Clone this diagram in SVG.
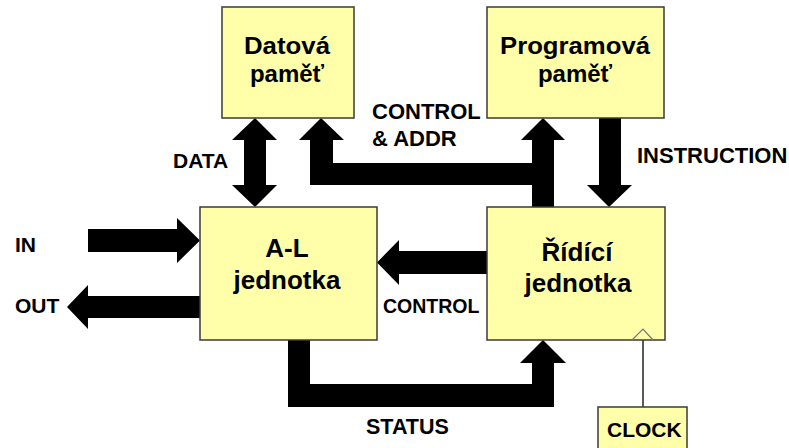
<svg xmlns="http://www.w3.org/2000/svg" width="789" height="448" viewBox="0 0 789 448">
<style>
.box{fill:#FFFFAA;stroke:#3a3a3a;stroke-width:1.5}
.bt{font-family:"Liberation Sans",Arial,sans-serif;font-weight:bold;font-size:26px;fill:#000;text-anchor:middle}
.bs{font-size:24px}
.lb{font-family:"Liberation Sans",Arial,sans-serif;font-weight:bold;font-size:21px;fill:#000}
.ar{fill:#000;stroke:none}
</style>
<rect width="789" height="448" fill="#fff"/>
<g id="connectors">
<polygon class="ar" points="255,118 277,140 266,140 266,185 277,185 255,207 232,185 244,185 244,140 232,140"/>
<polygon class="ar" points="321,118 344,140 333,140 333,163 532,163 532,140 521,140 543,118 565,140 554,140 554,207 532,207 532,185 310,185 310,140 299,140"/>
<polygon class="ar" points="599,118 621,118 621,185 632,185 609,207 587,185 599,185"/>
<polygon class="ar" points="88,229 177,229 177,218 200,240.5 177,263 177,252 88,252"/>
<polygon class="ar" points="200,296 88,296 88,285 67,307 88,329 88,318 200,318"/>
<polygon class="ar" points="487,251 399,251 399,240 377,262.5 399,285 399,274 487,274"/>
<polygon class="ar" points="288,340 310,340 310,384 532,384 532,363 520,363 543,340 566,363 554,363 554,407 288,407"/>
<line x1="643" y1="340" x2="643" y2="407" stroke="#000" stroke-width="1.3"/>
</g>
<g id="datova">
<rect class="box" x="222" y="7" width="132" height="111"/>
<text class="bt bs" x="287" y="54" textLength="86" lengthAdjust="spacingAndGlyphs">Datová</text>
<text class="bt bs" x="287" y="82">paměť</text>
</g>
<g id="programova">
<rect class="box" x="487" y="7" width="177" height="111"/>
<text class="bt bs" x="575" y="54" textLength="150" lengthAdjust="spacingAndGlyphs">Programová</text>
<text class="bt bs" x="575" y="82">paměť</text>
</g>
<g id="al">
<rect class="box" x="200" y="207" width="177" height="133"/>
<text class="bt" x="287" y="257">A-L</text>
<text class="bt" x="287" y="289">jednotka</text>
</g>
<g id="ridici">
<rect class="box" x="487" y="207" width="178" height="133"/>
<text class="bt" x="577" y="261">Řídící</text>
<text class="bt" x="578" y="292">jednotka</text>
<polyline points="632,340 643,329 653,340" fill="none" stroke="#777" stroke-width="1.2"/>
</g>
<g id="clock">
<rect class="box" x="598" y="407" width="89" height="60"/>
<text class="lb" x="607" y="437">CLOCK</text>
</g>
<g id="labels">
<text class="lb" x="173" y="168">DATA</text>
<text class="lb" x="372" y="119" style="font-size:22px">CONTROL</text>
<text class="lb" x="372" y="146" style="font-size:22px">&amp; ADDR</text>
<text class="lb" x="637" y="163" style="font-size:22px">INSTRUCTION</text>
<text class="lb" x="15" y="252">IN</text>
<text class="lb" x="15" y="313">OUT</text>
<text class="lb" x="383" y="313" style="font-size:19.5px">CONTROL</text>
<text class="lb" x="366" y="434" style="font-size:21.5px">STATUS</text>
</g>
</svg>
